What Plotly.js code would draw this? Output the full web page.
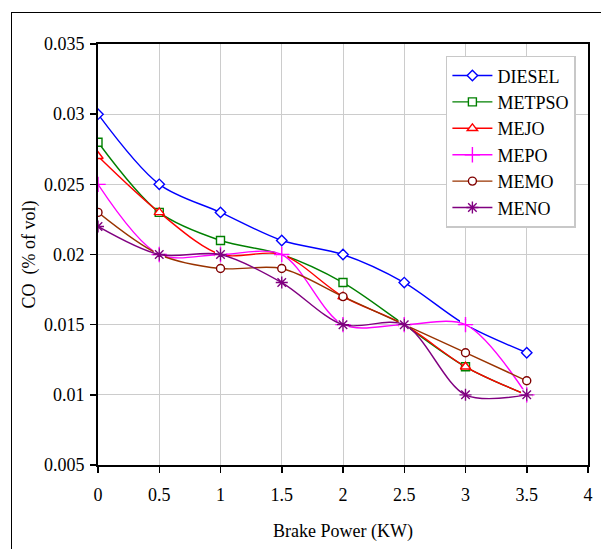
<!DOCTYPE html>
<html>
<head>
<meta charset="utf-8">
<script src="https://cdn.plot.ly/plotly-3.0.1.min.js"></script>
<style>
html,body{margin:0;padding:0;background:#fff;}
#wrap{position:relative;width:601px;height:549px;overflow:hidden;}
#frame{position:absolute;left:11px;top:12px;width:700px;height:700px;border-left:1.5px solid #000;border-top:1.5px solid #000;pointer-events:none;z-index:5;}
#chart{position:absolute;left:0;top:0;width:601px;height:549px;}
</style>
</head>
<body>
<div id="wrap"><div id="chart"></div><div id="frame"></div></div>
<script>
const brakePower = [0, 0.5, 1, 1.5, 2, 2.5, 3, 3.5];
const diesel = [0.030, 0.025, 0.023, 0.021, 0.020, 0.018, 0.015, 0.013];
const metpso = [0.028, 0.023, 0.021, 0.020, 0.018, 0.015, 0.012, 0.010];
const mejo   = [0.027, 0.023, 0.020, 0.020, 0.017, 0.015, 0.012, 0.010];
const mepo   = [0.025, 0.020, 0.020, 0.020, 0.015, 0.015, 0.015, 0.010];
const memo   = [0.023, 0.020, 0.019, 0.019, 0.017, 0.015, 0.013, 0.011];
const meno   = [0.022, 0.020, 0.020, 0.018, 0.015, 0.015, 0.010, 0.010];
const seriesNames = ['DIESEL','METPSO','MEJO','MEPO','MEMO','MENO'];

const specs = [
  {y: diesel, line:'#0000ff', sym:'diamond', mcol:'#0000ff', size:8},
  {y: metpso, line:'#008000', sym:'square', mcol:'#008000', size:8},
  {y: mejo,   line:'#ff0000', sym:'triangle-up', mcol:'#ff0000', size:9},
  {y: mepo,   line:'#ff00ff', sym:'cross-thin', mcol:'#ff00ff', size:11, bg:true},
  {y: memo,   line:'#993300', sym:'circle', mcol:'#800000', size:8},
  {y: meno,   line:'#800080', sym:'asterisk', mcol:'#800080', size:10, bg:true}
];

const traces = [];
specs.forEach((s,i)=>{
  if (s.bg) {
    traces.push({x: brakePower, y: s.y, type:'scatter', mode:'markers', showlegend:false, hoverinfo:'skip',
      marker:{symbol:'square', size:11, color:'#ffffff', line:{width:0}}});
  }
  traces.push({
    x: brakePower, y: s.y, name: seriesNames[i], type:'scatter', mode:'lines+markers',
    line:{color:s.line, width:1.4, shape:'spline', smoothing:0.9},
    marker:{symbol:s.sym, size:s.size, color:'#ffffff', line:{color:s.mcol, width:1.4}}
  });
});

const font = {family:'"Liberation Serif", "Times New Roman", serif', color:'#000'};

const layout = {
  width:601, height:549,
  margin:{l:98, r:13, t:44, b:84},
  paper_bgcolor:'#fff', plot_bgcolor:'#fff',
  showlegend:true,
  legend:{x:0.71, y:0.972, xanchor:'left', yanchor:'top',
    bgcolor:'#fff', bordercolor:'#c8c8c8', borderwidth:1.5,
    font:Object.assign({size:18}, font), tracegroupgap:0, itemwidth:40},
  xaxis:{range:[0,4], dtick:0.5, tick0:0, showgrid:true, gridcolor:'#cccccc', gridwidth:1,
    zeroline:false, showline:true, linecolor:'#000', linewidth:2, mirror:true,
    ticks:'outside', ticklen:6, tickwidth:1.5, tickcolor:'#000', ticklabelstandoff:6,
    tickfont:Object.assign({size:18}, font),
    title:{text:'Brake Power (KW)', font:Object.assign({size:18}, font), standoff:21}},
  yaxis:{range:[0.005,0.035], dtick:0.005, tick0:0.005, showgrid:true, gridcolor:'#cccccc', gridwidth:1,
    zeroline:false, showline:true, linecolor:'#000', linewidth:2, mirror:true,
    ticks:'outside', ticklen:6, tickwidth:1.5, tickcolor:'#000', ticklabelstandoff:2,
    tickfont:Object.assign({size:18}, font),
    title:{text:'CO  (% of vol)', font:Object.assign({size:18}, font), standoff:4}}
};

Plotly.newPlot('chart', traces, layout, {displayModeBar:false, staticPlot:true});
</script>
</body>
</html>
